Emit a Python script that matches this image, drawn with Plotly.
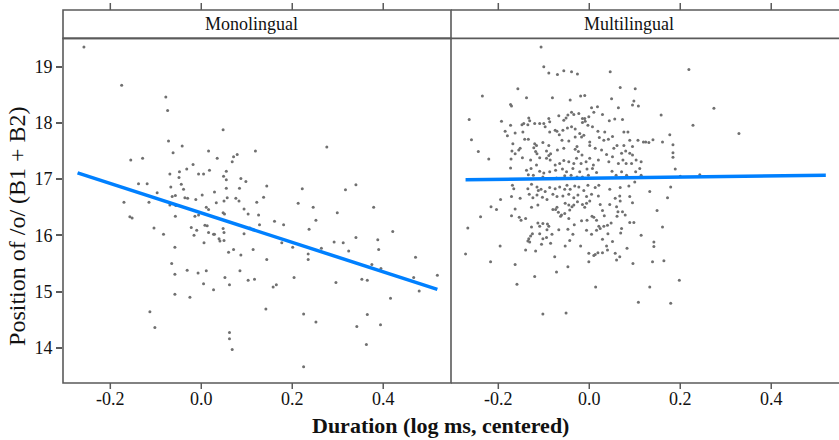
import plotly.graph_objects as go

# Observed (duration, F-position) pairs per group
mono_obs = [
    (-0.258, 19.35), (-0.175, 18.67), (-0.078, 18.46), (-0.074, 18.22), (0.048, 17.88),
    (-0.072, 17.68), (-0.042, 17.59), (-0.062, 17.47), (0.016, 17.50), (0.079, 17.44),
    (0.071, 17.40), (0.068, 17.31), (0.035, 17.37), (-0.155, 17.34), (-0.129, 17.37),
    (-0.018, 17.26), (-0.032, 17.18), (-0.048, 17.13), (-0.069, 17.09), (-0.006, 17.09),
    (0.005, 17.09), (0.018, 17.16), (0.055, 17.14), (0.049, 17.05), (0.055, 16.99),
    (0.087, 17.01), (0.098, 16.96), (-0.049, 17.03), (-0.138, 16.92), (-0.119, 16.92),
    (-0.044, 16.91), (-0.067, 16.86), (-0.039, 16.82), (0.055, 16.84), (0.084, 16.84),
    (0.029, 16.77), (-0.097, 16.76), (-0.057, 16.71), (-0.064, 16.69), (-0.036, 16.67),
    (-0.030, 16.66), (-0.012, 16.64), (0.002, 16.72), (0.057, 16.67), (0.076, 16.66),
    (0.119, 17.50), (0.276, 17.57), (0.144, 16.88), (0.222, 16.83), (0.317, 16.81),
    (0.340, 16.90), (0.137, 16.68),
    (-0.170, 16.59), (-0.115, 16.59), (-0.069, 16.54), (-0.056, 16.53), (0.011, 16.50),
    (0.016, 16.46), (0.033, 16.58), (0.050, 16.61), (0.048, 16.40), (0.051, 16.38),
    (0.083, 16.61), (0.094, 16.47), (0.103, 16.38), (-0.006, 16.36), (-0.014, 16.34),
    (-0.057, 16.34), (-0.157, 16.33), (-0.152, 16.31), (-0.104, 16.13), (-0.083, 16.02),
    (-0.022, 16.14), (-0.010, 16.09), (-0.016, 16.00), (0.008, 16.18), (0.013, 16.17),
    (0.016, 16.05), (0.027, 16.02), (0.029, 16.02), (0.039, 15.94), (0.041, 15.90),
    (0.050, 15.91), (0.048, 16.12), (0.050, 16.05), (0.006, 15.87), (-0.058, 15.79),
    (0.060, 15.70), (0.071, 15.75), (0.087, 15.65), (0.094, 16.03), (0.114, 15.75),
    (0.107, 16.13), (0.114, 16.10), (-0.065, 15.50), (-0.058, 15.31), (-0.031, 15.38),
    (-0.007, 15.33), (0.011, 15.37), (0.005, 15.14), (0.027, 15.03), (0.052, 15.25),
    (0.062, 15.12), (0.085, 15.37), (0.103, 15.20), (0.117, 15.22), (-0.058, 14.95),
    (-0.025, 14.90), (-0.113, 14.64), (-0.102, 14.36), (0.062, 14.27), (0.062, 14.16),
    (0.068, 13.97),
    (0.122, 16.59), (0.213, 16.57), (0.246, 16.50), (0.379, 16.50), (0.126, 16.36),
    (0.128, 16.19), (0.161, 16.25), (0.181, 16.19), (0.252, 16.27), (0.299, 16.40),
    (0.237, 16.11), (0.421, 16.07), (0.177, 15.87), (0.201, 15.79), (0.235, 15.67),
    (0.235, 15.57), (0.264, 15.77), (0.292, 15.88), (0.312, 15.87), (0.324, 15.72),
    (0.340, 15.96), (0.388, 15.92), (0.390, 15.75), (0.144, 15.57), (0.471, 15.61),
    (0.375, 15.48), (0.395, 15.41), (0.204, 15.25), (0.296, 15.16), (0.353, 15.22),
    (0.365, 15.20), (0.467, 15.25), (0.519, 15.29), (0.158, 15.08), (0.165, 15.12),
    (0.416, 14.88), (0.479, 15.01), (0.142, 14.69), (0.225, 14.60), (0.365, 14.59),
    (0.252, 14.46), (0.394, 14.41), (0.342, 14.38), (0.363, 14.06), (0.225, 13.66),
]

multi_obs = [
    (-0.106, 19.35), (-0.100, 19.00), (-0.089, 18.89), (-0.070, 18.86), (-0.056, 18.93),
    (-0.039, 18.91), (-0.026, 18.87), (0.046, 18.91),
    (-0.235, 18.48), (-0.157, 18.61), (-0.138, 18.45), (-0.081, 18.45), (-0.019, 18.48),
    (-0.010, 18.49), (0.049, 18.43), (0.068, 18.63), (0.101, 18.61), (-0.173, 18.33),
    (-0.171, 18.30), (-0.042, 18.41), (0.095, 18.32), (0.108, 18.30), (0.098, 18.39),
    (-0.264, 18.06), (-0.193, 18.03), (-0.173, 17.96), (-0.148, 17.97), (-0.144, 17.99),
    (-0.133, 18.09), (-0.131, 18.04), (-0.135, 17.97), (-0.120, 17.99), (-0.109, 17.99),
    (-0.100, 17.99), (-0.089, 18.08), (-0.087, 18.02), (-0.067, 18.13), (-0.056, 18.05),
    (-0.051, 18.09), (-0.047, 18.14), (-0.039, 18.19), (-0.034, 18.15), (-0.023, 18.17),
    (-0.015, 18.08), (-0.010, 18.08), (-0.009, 18.03), (-0.001, 18.11), (0.005, 18.27),
    (0.010, 18.19), (0.018, 18.29), (0.029, 18.15), (0.044, 18.04), (0.064, 18.27),
    (-0.185, 17.85), (-0.180, 17.77), (-0.163, 17.82), (-0.146, 17.84), (-0.097, 17.93),
    (-0.087, 17.84), (-0.075, 17.87), (-0.071, 17.85), (-0.066, 17.79), (-0.058, 17.87),
    (-0.048, 17.91), (-0.039, 17.93), (-0.031, 17.89), (-0.015, 18.01), (-0.003, 17.96),
    (0.007, 17.93), (0.019, 17.85), (0.034, 17.84), (0.051, 17.76), (0.076, 17.84),
    (0.085, 17.84), (0.073, 18.06), (0.056, 18.07),
    (-0.259, 17.70), (-0.168, 17.63), (-0.142, 17.71), (-0.134, 17.71), (-0.120, 17.63),
    (-0.116, 17.60), (-0.102, 17.65), (-0.089, 17.60), (-0.060, 17.69), (-0.045, 17.68),
    (-0.031, 17.75), (-0.021, 17.81), (-0.017, 17.75), (-0.012, 17.78), (0.001, 17.66),
    (0.022, 17.74), (0.032, 17.69), (0.042, 17.71), (0.061, 17.60), (0.076, 17.60),
    (0.089, 17.69), (0.095, 17.58), (0.107, 17.69), (0.119, 17.66),
    (-0.244, 17.49), (-0.221, 17.36), (-0.170, 17.50), (-0.163, 17.45), (-0.155, 17.52),
    (-0.152, 17.55), (-0.122, 17.56), (-0.118, 17.49), (-0.115, 17.45), (-0.094, 17.50),
    (-0.085, 17.45), (-0.070, 17.52), (-0.056, 17.55), (-0.031, 17.53), (-0.027, 17.58),
    (-0.024, 17.49), (-0.016, 17.43), (0.001, 17.60), (0.013, 17.55), (0.027, 17.52),
    (0.038, 17.44), (0.054, 17.55), (0.071, 17.46), (0.080, 17.50), (0.089, 17.46),
    (0.095, 17.43), (0.103, 17.34), (0.114, 17.31),
    (-0.172, 17.36), (-0.173, 17.20), (-0.147, 17.38), (-0.129, 17.34), (-0.116, 17.25),
    (-0.109, 17.38), (-0.094, 17.37), (-0.089, 17.42), (-0.086, 17.34), (-0.075, 17.25),
    (-0.065, 17.28), (-0.056, 17.33), (-0.045, 17.31), (-0.034, 17.28), (-0.028, 17.37),
    (-0.018, 17.28), (-0.007, 17.31), (0.001, 17.37), (0.009, 17.25), (0.020, 17.34),
    (0.043, 17.31), (0.051, 17.40), (0.064, 17.28), (0.074, 17.34), (0.081, 17.28),
    (0.093, 17.28), (0.111, 17.19),
    (-0.138, 17.16), (-0.128, 17.19), (-0.109, 17.14), (-0.100, 17.11), (-0.087, 17.13),
    (-0.074, 17.16), (-0.059, 17.18), (-0.050, 17.13), (-0.036, 17.19), (-0.021, 17.13),
    (-0.005, 17.18), (0.007, 17.19), (0.016, 17.12), (0.050, 17.14), (0.059, 17.07),
    (0.071, 17.13), (0.082, 17.07), (0.102, 17.13), (0.114, 17.07),
    (-0.134, 17.08), (-0.123, 17.07), (-0.102, 17.04), (-0.090, 17.01), (-0.072, 17.02),
    (-0.054, 17.06), (-0.040, 17.07), (-0.027, 17.04), (-0.015, 17.04), (-0.002, 17.07),
    (-0.169, 16.89), (-0.166, 16.83), (-0.135, 16.83), (-0.127, 16.91), (-0.115, 16.86),
    (-0.112, 16.80), (-0.106, 16.82), (-0.097, 16.78), (-0.087, 16.85), (-0.075, 16.83),
    (-0.065, 16.86), (-0.054, 16.82), (-0.049, 16.89), (-0.042, 16.82), (-0.032, 16.88),
    (-0.023, 16.86), (-0.012, 16.80), (-0.003, 16.89), (0.013, 16.85), (0.021, 16.89),
    (0.045, 16.82), (0.068, 16.85), (0.087, 16.88), (0.100, 16.95),
    (-0.195, 16.64), (-0.171, 16.69), (-0.152, 16.66), (-0.132, 16.73), (-0.124, 16.67),
    (-0.115, 16.72), (-0.103, 16.68), (-0.093, 16.64), (-0.080, 16.73), (-0.071, 16.69),
    (-0.058, 16.70), (-0.045, 16.73), (-0.034, 16.67), (-0.025, 16.72), (-0.006, 16.69),
    (0.005, 16.73), (0.020, 16.70), (0.057, 16.66), (0.067, 16.70), (0.089, 16.69),
    (-0.216, 16.51), (-0.204, 16.46), (-0.239, 16.33), (-0.267, 16.13), (-0.272, 15.67),
    (-0.217, 15.53), (-0.196, 15.81), (-0.163, 15.48), (-0.159, 15.13), (-0.120, 15.27),
    (-0.102, 14.60), (-0.051, 14.62), (-0.140, 15.74), (-0.118, 15.72), (-0.171, 16.35),
    (-0.163, 16.47), (-0.154, 16.32), (-0.150, 16.27), (-0.140, 16.30), (-0.127, 16.50),
    (-0.113, 16.54), (-0.127, 16.15), (-0.113, 16.22), (-0.109, 16.16), (-0.102, 16.21),
    (-0.092, 16.20), (-0.089, 16.16), (-0.093, 16.10), (-0.125, 16.03), (-0.129, 15.99),
    (-0.133, 15.94), (-0.135, 15.90), (-0.131, 15.88), (-0.109, 16.03), (-0.102, 15.94),
    (-0.105, 15.84), (-0.094, 15.96), (-0.082, 16.02), (-0.085, 15.86), (-0.076, 15.62),
    (-0.072, 15.35), (-0.047, 15.44), (-0.053, 15.81), (-0.043, 15.91), (-0.036, 16.02),
    (-0.047, 16.11), (-0.067, 16.10), (-0.063, 16.34), (-0.074, 16.46), (-0.068, 16.41),
    (-0.080, 16.46), (-0.071, 16.50), (-0.053, 16.57), (-0.045, 16.54), (-0.038, 16.51),
    (-0.034, 16.54), (-0.043, 16.45), (-0.026, 16.60), (-0.015, 16.55), (-0.010, 16.50),
    (-0.006, 16.57), (0.001, 16.61), (-0.061, 16.36), (-0.054, 16.39), (-0.045, 16.30),
    (-0.033, 16.19), (-0.017, 16.26), (-0.005, 16.27), (0.006, 16.34), (0.010, 16.32),
    (0.016, 16.27), (0.029, 16.44), (0.033, 16.35), (0.024, 16.55), (0.045, 16.55),
    (0.060, 16.51), (0.068, 16.61), (0.073, 16.42), (0.079, 16.36), (0.061, 16.34),
    (0.063, 16.42), (0.048, 16.22), (0.040, 16.18), (0.032, 16.16), (0.021, 16.16),
    (0.016, 16.09), (0.024, 16.12), (-0.006, 16.09), (0.005, 16.02), (-0.019, 15.81),
    (-0.001, 15.68), (0.010, 15.64), (0.013, 15.66), (0.019, 15.69), (0.029, 15.69),
    (0.038, 15.81), (0.051, 15.89), (0.040, 15.74), (0.057, 15.68), (0.060, 15.56),
    (0.067, 15.62), (0.071, 16.12), (0.069, 16.04), (0.095, 16.58), (0.089, 16.23),
    (0.098, 16.23), (0.083, 15.77), (0.096, 15.50), (0.114, 16.00), (-0.001, 15.53),
    (0.014, 15.08), (0.108, 14.81), (0.029, 15.93), (0.041, 16.03),
    (0.219, 18.95), (0.158, 18.14), (0.274, 18.26), (0.228, 17.96), (0.329, 17.81),
    (0.177, 17.79), (0.124, 17.66), (0.131, 17.65), (0.140, 17.70), (0.161, 17.66),
    (0.184, 17.61), (0.184, 17.47), (0.184, 17.39), (0.189, 17.18), (0.200, 17.05),
    (0.243, 17.08), (0.133, 16.78), (0.179, 16.86), (0.172, 16.67),
    (0.149, 16.44), (0.161, 16.15), (0.142, 15.88), (0.142, 15.80), (0.139, 15.53),
    (0.164, 15.55), (0.198, 15.20), (0.133, 15.08), (0.179, 14.79),
]

# Fitted regression lines (endpoints over the observed duration span)
mono_fit_x = [-0.272, 0.519]
mono_fit_y = [17.11, 15.04]
multi_fit_x = [-0.272, 0.520]
multi_fit_y = [16.99, 17.07]

panel_titles = ["Monolingual", "Multilingual"]
x_ticks = [-0.2, 0.0, 0.2, 0.4]
x_tick_labels = ["-0.2", "0.0", "0.2", "0.4"]
y_ticks = [14, 15, 16, 17, 18, 19]
x_range = [-0.304, 0.549]
y_range = [13.373, 19.505]

FONT = "Liberation Serif, Times New Roman, serif"
FRAME = "#5a5a5a"
POINT = "#707070"
LINE = "#0080ff"
TEXT = "#111111"
STRIP_BOTTOM = 0.924
PLOT_H = 373  # plot-area height in px, used for tick lengths drawn as shapes

mono_x, mono_y = zip(*mono_obs)
multi_x, multi_y = zip(*multi_obs)

fig = go.Figure()
fig.add_trace(go.Scatter(x=mono_x, y=mono_y, mode="markers", xaxis="x", yaxis="y",
                         marker=dict(size=3, color=POINT), hoverinfo="skip"))
fig.add_trace(go.Scatter(x=mono_fit_x, y=mono_fit_y, mode="lines", xaxis="x", yaxis="y",
                         line=dict(color=LINE, width=3.5)))
fig.add_trace(go.Scatter(x=multi_x, y=multi_y, mode="markers", xaxis="x2", yaxis="y2",
                         marker=dict(size=3, color=POINT), hoverinfo="skip"))
fig.add_trace(go.Scatter(x=multi_fit_x, y=multi_fit_y, mode="lines", xaxis="x2", yaxis="y2",
                         line=dict(color=LINE, width=3.5)))

tick_font = dict(family=FONT, size=18, color=TEXT)
# x tick marks and labels are placed explicitly below so they hug the frame
xcommon = dict(range=x_range, showticklabels=False, ticks="", showgrid=False, zeroline=False,
               showline=False, fixedrange=True)
ycommon = dict(range=y_range, showgrid=False, zeroline=False, showline=False, fixedrange=True,
               domain=[0, STRIP_BOTTOM])

fig.update_layout(
    width=839, height=440,
    margin=dict(l=63, r=0, t=10, b=57),
    paper_bgcolor="white", plot_bgcolor="white",
    font=dict(family=FONT, color=TEXT),
    showlegend=False,
    xaxis=dict(domain=[0, 0.5], anchor="y", **xcommon),
    xaxis2=dict(domain=[0.5, 1], anchor="y2", **xcommon),
    yaxis=dict(anchor="x", tickvals=y_ticks, ticks="outside", ticklen=6, tickwidth=1.5,
               tickcolor=FRAME, tickfont=tick_font, **ycommon),
    yaxis2=dict(anchor="x2", showticklabels=False, ticks="", **ycommon),
)

frame = dict(color=FRAME, width=1.6)
shapes = [
    # left panel box (its right edge is the divider)
    dict(type="rect", xref="x domain", yref="y domain", x0=0, x1=1, y0=0, y1=1, line=frame),
    # right panel top / bottom
    dict(type="line", xref="x2 domain", yref="y2 domain", x0=0, x1=1, y0=0, y1=0, line=frame),
    dict(type="line", xref="x2 domain", yref="y2 domain", x0=0, x1=1, y0=1, y1=1, line=frame),
    # strips
    dict(type="rect", xref="x domain", yref="paper", x0=0, x1=1, y0=STRIP_BOTTOM, y1=1, line=frame),
    dict(type="line", xref="x2 domain", yref="paper", x0=0, x1=1, y0=1, y1=1, line=frame),
]
annotations = []
tick_line = dict(color=FRAME, width=1.5)
for xref in ("x", "x2"):
    for t, lab in zip(x_ticks, x_tick_labels):
        # top and bottom tick marks
        shapes.append(dict(type="line", xref=xref, yref="paper", x0=t, x1=t,
                           y0=1, y1=1 + 7 / PLOT_H, line=tick_line))
        shapes.append(dict(type="line", xref=xref, yref="paper", x0=t, x1=t,
                           y0=0, y1=-6 / PLOT_H, line=tick_line))
        # tick label
        annotations.append(dict(text=lab, xref=xref, yref="paper", x=t, y=-16 / PLOT_H,
                                xanchor="center", yanchor="middle", showarrow=False,
                                font=tick_font))
fig.update_layout(shapes=shapes)

strip_mid = (STRIP_BOTTOM + 1) / 2
strip_font = dict(family=FONT, size=18, color=TEXT)
annotations += [
    dict(text=panel_titles[0], xref="x domain", yref="paper", x=0.487, y=strip_mid,
         xanchor="center", yanchor="middle", showarrow=False, font=strip_font),
    dict(text=panel_titles[1], xref="x2 domain", yref="paper", x=0.46, y=strip_mid,
         xanchor="center", yanchor="middle", showarrow=False, font=strip_font),
    dict(text="<b>Duration (log ms, centered)</b>", xref="paper", yref="paper",
         x=0.486, y=-0.113, xanchor="center", yanchor="middle", showarrow=False,
         font=dict(family=FONT, size=22, color=TEXT)),
    dict(text="Position of /o/ (B1 + B2)", xref="paper", yref="paper", x=-0.0593, y=0.421,
         xanchor="center", yanchor="middle", textangle=-90, showarrow=False,
         font=dict(family=FONT, size=24, color=TEXT)),
]
fig.update_layout(annotations=annotations)

fig.write_html("out.html")
